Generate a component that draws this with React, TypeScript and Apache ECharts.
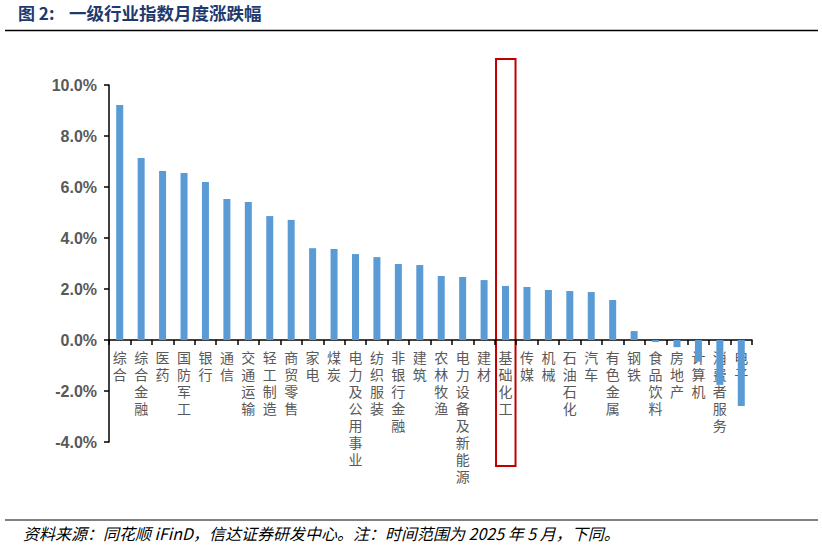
import React, { useEffect, useRef } from "react";
import * as echarts from "echarts";

const categories = [
  "综合", "综合金融", "医药", "国防军工", "银行", "通信", "交通运输", "轻工制造", "商贸零售",
  "家电", "煤炭", "电力及公用事业", "纺织服装", "非银行金融", "建筑", "农林牧渔",
  "电力设备及新能源", "建材", "基础化工", "传媒", "机械", "石油石化", "汽车", "有色金属",
  "钢铁", "食品饮料", "房地产", "计算机", "消费者服务", "电子",
];
const values = [
  9.22, 7.14, 6.63, 6.55, 6.2, 5.53, 5.41, 4.86, 4.71,
  3.6, 3.57, 3.37, 3.25, 2.98, 2.94, 2.51,
  2.47, 2.35, 2.12, 2.08, 1.96, 1.92, 1.88, 1.57,
  0.35, -0.08, -0.28, -0.85, -1.76, -2.59,
];
const highlighted = "基础化工";
const yMin = -4;
const yMax = 10;
const yInterval = 2;
const titleLabel = "图 2:";
const titleText = "一级行业指数月度涨跌幅";
const sourceText = "资料来源：同花顺 iFinD，信达证券研发中心。注：时间范围为 2025 年 5 月，下同。";

const GRID_TOP = 85;
const GRID_BOTTOM = 103;
const CHART_H = 545;

export default function App() {
  const ref = useRef<HTMLDivElement>(null);
  useEffect(() => {
    document.body.style.margin = "0";
    if (!ref.current) return;
    const chart = echarts.init(ref.current, null, { renderer: "svg" });
    const gridH = CHART_H - GRID_TOP - GRID_BOTTOM;
    const zeroOffset = -(gridH * (0 - yMin)) / (yMax - yMin);
    chart.setOption({
      animation: false,
      grid: { left: 109, right: 70, top: GRID_TOP, bottom: GRID_BOTTOM, containLabel: false, outerBoundsMode: "none" },
      xAxis: {
        type: "category",
        data: categories,
        boundaryGap: true,
        position: "bottom",
        offset: zeroOffset,
        axisLine: { onZero: false, lineStyle: { color: "#000", width: 1.5 } },
        axisTick: { show: true, alignWithLabel: false, length: 5, lineStyle: { color: "#000", width: 1.5 } },
        axisLabel: {
          interval: 0,
          margin: 8,
          color: "#595959",
          fontSize: 14,
          lineHeight: 17,
          fontFamily: "Noto Sans CJK SC",
          formatter: (v: string) => v.split("").join("\n"),
        },
      },
      yAxis: {
        type: "value",
        min: yMin,
        max: yMax,
        interval: yInterval,
        splitLine: { show: false },
        axisLine: { show: true, onZero: false, lineStyle: { color: "#000", width: 1.5 } },
        axisTick: { show: true, length: 5, lineStyle: { color: "#000", width: 1.5 } },
        axisLabel: {
          color: "#595959",
          fontSize: 16,
          fontWeight: "bold",
          fontFamily: "Liberation Sans, Arial",
          margin: 12,
          formatter: (v: number) => v.toFixed(1) + "%",
        },
      },
      series: [
        {
          type: "bar",
          data: values,
          barWidth: 7,
          itemStyle: { color: "#5B9BD5" },
        },
      ],
      graphic: [
        {
          id: "titleLabel",
          type: "text",
          left: 18,
          top: 4,
          style: {
            text: titleLabel,
            fontSize: 17,
            fontWeight: "bold",
            fill: "#1F3A6E",
            fontFamily: "Noto Sans CJK SC",
          },
        },
        {
          id: "title",
          type: "text",
          left: 69,
          top: 4,
          style: {
            text: titleText,
            fontSize: 17.5,
            fontWeight: "bold",
            fill: "#1F3A6E",
            fontFamily: "Noto Sans CJK SC",
          },
        },
        {
          id: "topline",
          type: "line",
          shape: { x1: 5, y1: 30.5, x2: 818, y2: 30.5 },
          style: { stroke: "#000", lineWidth: 1.5 },
        },
        {
          id: "bottomline",
          type: "line",
          shape: { x1: 5, y1: 520, x2: 818, y2: 520 },
          style: { stroke: "#808080", lineWidth: 2 },
        },
        {
          id: "source",
          type: "text",
          x: 23,
          y: 533,
          style: {
            text: sourceText,
            fontSize: 16,
            fontStyle: "italic",
            fill: "#000",
            fontFamily: "Noto Sans CJK SC",
            verticalAlign: "middle",
          },
        },
      ],
    });
    const cx = chart.convertToPixel({ xAxisIndex: 0 }, highlighted) as number;
    chart.setOption({
      graphic: [
        {
          id: "box",
          type: "rect",
          shape: { x: cx - 9.5, y: 59, width: 19.5, height: 407 },
          style: { fill: "none", stroke: "#C00000", lineWidth: 2 },
        },
      ],
    });
    return () => chart.dispose();
  }, []);
  return <div ref={ref} style={{ width: 822, height: 545 }} />;
}
